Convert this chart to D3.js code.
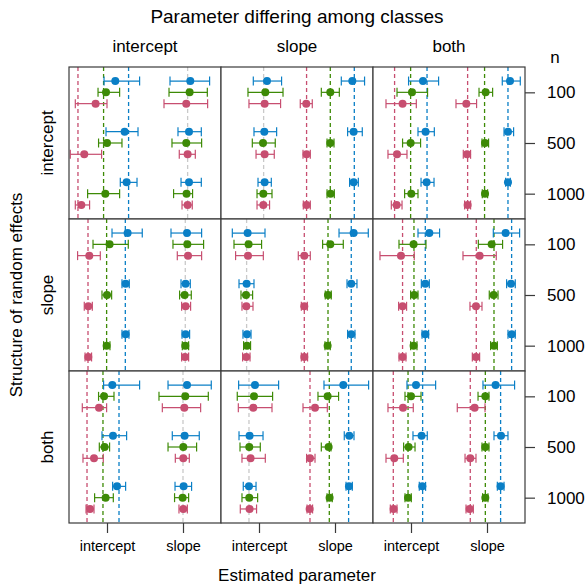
<!DOCTYPE html>
<html>
<head>
<meta charset="utf-8">
<script src="https://cdn.jsdelivr.net/npm/d3@7"></script>
<style>
  html, body { margin: 0; padding: 0; background: #ffffff; }
  svg { display: block; font-family: "Liberation Sans", Arial, Helvetica, sans-serif; }
</style>
</head>
<body>
<svg id="chart" width="587" height="586"></svg>
<script>
// ---- data -------------------------------------------------------------
// Column facets: which parameter differs among classes
const differingParams = ["intercept", "slope", "both"];
// Row facets: structure of random effects
const randomStructures = ["intercept", "slope", "both"];
// Sample sizes (right axis)
const sampleSizes = [100, 500, 1000];
// Latent classes (drawn top to bottom within each sample size)
const classIds = [1, 2, 3];
const classColors = ["#0a7fc6", "#3d8a06", "#c74e70"];
// Estimated parameters (bottom axis)
const paramNames = ["intercept", "slope"];
const paramPositions = [1, 2];

// True values: [parameter, class (0 = shared by all classes), value]
const truth_intercept_intercept = [["intercept", 1, 1.284], ["intercept", 2, 0.955], ["intercept", 3, 0.618], ["slope", 0, 2.061]];
const truth_intercept_slope = [["intercept", 0, 1.061], ["slope", 1, 2.254], ["slope", 2, 1.938], ["slope", 3, 1.626]];
const truth_intercept_both = [["intercept", 1, 1.211], ["intercept", 2, 0.995], ["intercept", 3, 0.784], ["slope", 1, 2.276], ["slope", 2, 1.968], ["slope", 3, 1.745]];
const truth_slope_intercept = [["intercept", 1, 1.241], ["intercept", 2, 0.995], ["intercept", 3, 0.750], ["slope", 0, 2.030]];
const truth_slope_slope = [["intercept", 0, 0.837], ["slope", 1, 2.214], ["slope", 2, 1.908], ["slope", 3, 1.596]];
const truth_slope_both = [["intercept", 1, 1.188], ["intercept", 2, 1.039], ["intercept", 3, 0.889], ["slope", 1, 2.324], ["slope", 2, 2.092], ["slope", 3, 1.859]];
const truth_both_intercept = [["intercept", 1, 1.158], ["intercept", 2, 0.947], ["intercept", 3, 0.737], ["slope", 0, 2.000]];
const truth_both_slope = [["intercept", 0, 0.868], ["slope", 1, 2.179], ["slope", 2, 1.925], ["slope", 3, 1.671]];
const truth_both_both = [["intercept", 1, 1.153], ["intercept", 2, 0.961], ["intercept", 3, 0.767], ["slope", 1, 2.179], ["slope", 2, 1.978], ["slope", 3, 1.780]];

// Estimates: [n, class, parameter, lower, estimate, upper]
const est_intercept_intercept = [
  [100, 1, "intercept", 0.961, 1.109, 1.429], [100, 2, "intercept", 0.882, 0.987, 1.166], [100, 3, "intercept", 0.583, 0.850, 1.000],
  [500, 1, "intercept", 0.987, 1.232, 1.408], [500, 2, "intercept", 0.889, 1.000, 1.197], [500, 3, "intercept", 0.517, 0.701, 0.929],
  [1000, 1, "intercept", 1.175, 1.258, 1.395], [1000, 2, "intercept", 0.745, 0.978, 1.166], [1000, 3, "intercept", 0.583, 0.662, 0.771],
  [100, 1, "slope", 1.829, 2.096, 2.350], [100, 2, "slope", 1.816, 2.087, 2.320], [100, 3, "slope", 1.750, 2.043, 2.324],
  [500, 1, "slope", 1.934, 2.079, 2.241], [500, 2, "slope", 1.855, 2.043, 2.245], [500, 3, "slope", 1.951, 2.061, 2.162],
  [1000, 1, "slope", 1.974, 2.079, 2.241], [1000, 2, "slope", 1.876, 2.047, 2.126], [1000, 3, "slope", 1.987, 2.061, 2.122]
];
const est_intercept_slope = [
  [100, 1, "intercept", 0.925, 1.105, 1.297], [100, 2, "intercept", 0.855, 1.083, 1.316], [100, 3, "intercept", 0.868, 1.074, 1.284],
  [500, 1, "intercept", 0.934, 1.070, 1.232], [500, 2, "intercept", 0.912, 1.053, 1.214], [500, 3, "intercept", 0.961, 1.074, 1.201],
  [1000, 1, "intercept", 0.987, 1.074, 1.162], [1000, 2, "intercept", 0.974, 1.057, 1.171], [1000, 3, "intercept", 0.974, 1.057, 1.139],
  [100, 1, "slope", 2.083, 2.228, 2.389], [100, 2, "slope", 1.820, 1.938, 2.057], [100, 3, "slope", 1.543, 1.622, 1.701],
  [500, 1, "slope", 2.166, 2.245, 2.359], [500, 2, "slope", 1.895, 1.938, 1.987], [500, 3, "slope", 1.579, 1.626, 1.675],
  [1000, 1, "slope", 2.192, 2.245, 2.307], [1000, 2, "slope", 1.895, 1.942, 1.991], [1000, 3, "slope", 1.583, 1.626, 1.675]
];
const est_intercept_both = [
  [100, 1, "intercept", 0.968, 1.158, 1.363], [100, 2, "intercept", 0.816, 1.013, 1.218], [100, 3, "intercept", 0.671, 0.889, 1.070],
  [500, 1, "intercept", 1.092, 1.192, 1.307], [500, 2, "intercept", 0.889, 0.995, 1.126], [500, 3, "intercept", 0.697, 0.816, 0.947],
  [1000, 1, "intercept", 1.132, 1.205, 1.303], [1000, 2, "intercept", 0.916, 1.004, 1.092], [1000, 3, "intercept", 0.741, 0.811, 0.882],
  [100, 1, "slope", 2.201, 2.303, 2.438], [100, 2, "slope", 1.895, 1.982, 2.074], [100, 3, "slope", 1.592, 1.728, 1.863],
  [500, 1, "slope", 2.224, 2.276, 2.350], [500, 2, "slope", 1.934, 1.974, 2.021], [500, 3, "slope", 1.688, 1.737, 1.784],
  [1000, 1, "slope", 2.245, 2.276, 2.307], [1000, 2, "slope", 1.938, 1.974, 2.008], [1000, 3, "slope", 1.705, 1.745, 1.784]
];
const est_slope_intercept = [
  [100, 1, "intercept", 1.066, 1.271, 1.464], [100, 2, "intercept", 0.816, 1.034, 1.280], [100, 3, "intercept", 0.613, 0.767, 0.912],
  [500, 1, "intercept", 1.197, 1.245, 1.293], [500, 2, "intercept", 0.934, 1.000, 1.061], [500, 3, "intercept", 0.701, 0.754, 0.807],
  [1000, 1, "intercept", 1.197, 1.245, 1.289], [1000, 2, "intercept", 0.955, 0.995, 1.039], [1000, 3, "intercept", 0.711, 0.754, 0.797],
  [100, 1, "slope", 1.842, 2.053, 2.245], [100, 2, "slope", 1.868, 2.057, 2.271], [100, 3, "slope", 1.925, 2.066, 2.245],
  [500, 1, "slope", 1.974, 2.034, 2.096], [500, 2, "slope", 1.955, 2.021, 2.109], [500, 3, "slope", 1.982, 2.034, 2.100],
  [1000, 1, "slope", 1.987, 2.034, 2.087], [1000, 2, "slope", 1.991, 2.030, 2.074], [1000, 3, "slope", 1.982, 2.026, 2.074]
];
const est_slope_slope = [
  [100, 1, "intercept", 0.649, 0.850, 1.079], [100, 2, "intercept", 0.671, 0.863, 1.034], [100, 3, "intercept", 0.692, 0.855, 1.057],
  [500, 1, "intercept", 0.737, 0.837, 0.934], [500, 2, "intercept", 0.763, 0.829, 0.916], [500, 3, "intercept", 0.776, 0.833, 0.921],
  [1000, 1, "intercept", 0.789, 0.842, 0.895], [1000, 2, "intercept", 0.797, 0.842, 0.889], [1000, 3, "intercept", 0.784, 0.833, 0.882],
  [100, 1, "slope", 2.053, 2.245, 2.438], [100, 2, "slope", 1.837, 1.938, 2.109], [100, 3, "slope", 1.517, 1.596, 1.675],
  [500, 1, "slope", 2.158, 2.214, 2.289], [500, 2, "slope", 1.872, 1.908, 1.951], [500, 3, "slope", 1.557, 1.596, 1.636],
  [1000, 1, "slope", 2.166, 2.214, 2.263], [1000, 2, "slope", 1.868, 1.903, 1.938], [1000, 3, "slope", 1.557, 1.596, 1.639]
];
const est_slope_both = [
  [100, 1, "intercept", 1.092, 1.241, 1.376], [100, 2, "intercept", 0.842, 1.034, 1.197], [100, 3, "intercept", 0.592, 0.868, 1.043],
  [500, 1, "intercept", 1.136, 1.188, 1.241], [500, 2, "intercept", 0.995, 1.043, 1.092], [500, 3, "intercept", 0.837, 0.889, 0.942],
  [1000, 1, "intercept", 1.145, 1.188, 1.232], [1000, 2, "intercept", 0.995, 1.034, 1.079], [1000, 3, "intercept", 0.842, 0.889, 0.934],
  [100, 1, "slope", 2.083, 2.245, 2.429], [100, 2, "slope", 1.886, 2.061, 2.205], [100, 3, "slope", 1.684, 1.903, 2.122],
  [500, 1, "slope", 2.258, 2.316, 2.372], [500, 2, "slope", 2.030, 2.087, 2.145], [500, 3, "slope", 1.776, 1.855, 1.934],
  [1000, 1, "slope", 2.276, 2.324, 2.372], [1000, 2, "slope", 2.047, 2.092, 2.136], [1000, 3, "slope", 1.807, 1.855, 1.903]
];
const est_both_intercept = [
  [100, 1, "intercept", 0.955, 1.070, 1.429], [100, 2, "intercept", 0.889, 0.961, 1.092], [100, 3, "intercept", 0.675, 0.895, 0.995],
  [500, 1, "intercept", 0.934, 1.079, 1.258], [500, 2, "intercept", 0.899, 0.968, 1.034], [500, 3, "intercept", 0.684, 0.829, 0.951],
  [1000, 1, "intercept", 1.074, 1.132, 1.245], [1000, 2, "intercept", 0.837, 0.982, 1.083], [1000, 3, "intercept", 0.724, 0.776, 0.829],
  [100, 1, "slope", 1.803, 2.053, 2.372], [100, 2, "slope", 1.684, 2.030, 2.333], [100, 3, "slope", 1.728, 2.017, 2.232],
  [500, 1, "slope", 1.859, 2.021, 2.214], [500, 2, "slope", 1.803, 2.004, 2.179], [500, 3, "slope", 1.899, 2.004, 2.083],
  [1000, 1, "slope", 1.895, 2.008, 2.113], [1000, 2, "slope", 1.889, 1.995, 2.074], [1000, 3, "slope", 1.947, 2.004, 2.057]
];
const est_both_slope = [
  [100, 1, "intercept", 0.732, 0.947, 1.258], [100, 2, "intercept", 0.714, 0.934, 1.179], [100, 3, "intercept", 0.728, 0.925, 1.171],
  [500, 1, "intercept", 0.737, 0.876, 1.053], [500, 2, "intercept", 0.750, 0.872, 1.017], [500, 3, "intercept", 0.776, 0.889, 1.083],
  [1000, 1, "intercept", 0.793, 0.868, 0.961], [1000, 2, "intercept", 0.776, 0.872, 0.982], [1000, 3, "intercept", 0.754, 0.876, 0.968],
  [100, 1, "slope", 1.855, 2.109, 2.442], [100, 2, "slope", 1.776, 1.903, 2.047], [100, 3, "slope", 1.579, 1.737, 1.899],
  [500, 1, "slope", 2.122, 2.188, 2.250], [500, 2, "slope", 1.820, 1.916, 1.947], [500, 3, "slope", 1.626, 1.671, 1.737],
  [1000, 1, "slope", 2.145, 2.184, 2.228], [1000, 2, "slope", 1.895, 1.929, 1.964], [1000, 3, "slope", 1.632, 1.666, 1.705]
];
const est_both_both = [
  [100, 1, "intercept", 0.947, 1.066, 1.324], [100, 2, "intercept", 0.921, 1.000, 1.132], [100, 3, "intercept", 0.697, 0.895, 1.030],
  [500, 1, "intercept", 1.026, 1.139, 1.214], [500, 2, "intercept", 0.903, 0.968, 1.053], [500, 3, "intercept", 0.671, 0.780, 0.899],
  [1000, 1, "intercept", 1.109, 1.149, 1.192], [1000, 2, "intercept", 0.921, 0.961, 1.004], [1000, 3, "intercept", 0.728, 0.771, 0.816],
  [100, 1, "slope", 1.947, 2.113, 2.363], [100, 2, "slope", 1.882, 1.978, 2.026], [100, 3, "slope", 1.609, 1.837, 1.974],
  [500, 1, "slope", 2.092, 2.184, 2.276], [500, 2, "slope", 1.934, 1.978, 2.026], [500, 3, "slope", 1.711, 1.780, 1.855],
  [1000, 1, "slope", 2.136, 2.179, 2.224], [1000, 2, "slope", 1.942, 1.978, 2.013], [1000, 3, "slope", 1.724, 1.771, 1.820]
];

const panelEstimates = {
  intercept: { intercept: est_intercept_intercept, slope: est_intercept_slope, both: est_intercept_both },
  slope:     { intercept: est_slope_intercept,     slope: est_slope_slope,     both: est_slope_both },
  both:      { intercept: est_both_intercept,      slope: est_both_slope,      both: est_both_both }
};
const panelTruth = {
  intercept: { intercept: truth_intercept_intercept, slope: truth_intercept_slope, both: truth_intercept_both },
  slope:     { intercept: truth_slope_intercept,     slope: truth_slope_slope,     both: truth_slope_both },
  both:      { intercept: truth_both_intercept,      slope: truth_both_slope,      both: truth_both_both }
};

// ---- layout ------------------------------------------------------------
const panelSize = 152;
const marginLeft = 69, marginTop = 67;
const sharedLineColor = "#c9c9c9";
const frameColor = "#3a3a3a";

const svg = d3.select("#chart");

// Scales shared by every panel
const x = d3.scaleLinear().domain([0.5, 2.5]).range([0, panelSize]);
const yN = d3.scaleBand().domain(sampleSizes).range([0, panelSize]);
const yClass = d3.scalePoint().domain(classIds).range([-0.223, 0.223]);
const color = d3.scaleOrdinal().domain(classIds).range(classColors);
const colX = d3.scaleBand().domain(differingParams).range([marginLeft, marginLeft + 3 * panelSize]);
const rowY = d3.scaleBand().domain(randomStructures).range([marginTop, marginTop + 3 * panelSize]);

const yPos = (n, c) => yN(n) + yN.bandwidth() / 2 + yClass(c) * yN.bandwidth();

const capHalf = 4.5, pointR = 4;

randomStructures.forEach(rowKey => {
  differingParams.forEach(colKey => {
    const g = svg.append("g")
      .attr("transform", `translate(${colX(colKey)},${rowY(rowKey)})`);

    g.append("rect")
      .attr("width", panelSize).attr("height", panelSize)
      .attr("fill", "#ffffff");

    // reference lines for the true values
    const truth = panelTruth[rowKey][colKey];
    g.selectAll("line.truth").data(truth).join("line")
      .attr("class", "truth")
      .attr("x1", d => x(d[2])).attr("x2", d => x(d[2]))
      .attr("y1", 0).attr("y2", panelSize)
      .attr("stroke", d => d[1] === 0 ? sharedLineColor : color(d[1]))
      .attr("stroke-width", 1.3)
      .attr("stroke-dasharray", "4,3");

    const est = panelEstimates[rowKey][colKey];
    const bars = g.selectAll("g.est").data(est).join("g").attr("class", "est")
      .attr("stroke", d => color(d[1]))
      .attr("fill", d => color(d[1]));

    bars.append("line")
      .attr("x1", d => x(d[3])).attr("x2", d => x(d[5]))
      .attr("y1", d => yPos(d[0], d[1])).attr("y2", d => yPos(d[0], d[1]))
      .attr("stroke-width", 1.2);
    bars.append("line")
      .attr("x1", d => x(d[3])).attr("x2", d => x(d[3]))
      .attr("y1", d => yPos(d[0], d[1]) - capHalf).attr("y2", d => yPos(d[0], d[1]) + capHalf)
      .attr("stroke-width", 1.2);
    bars.append("line")
      .attr("x1", d => x(d[5])).attr("x2", d => x(d[5]))
      .attr("y1", d => yPos(d[0], d[1]) - capHalf).attr("y2", d => yPos(d[0], d[1]) + capHalf)
      .attr("stroke-width", 1.2);
    bars.append("circle")
      .attr("cx", d => x(d[4])).attr("cy", d => yPos(d[0], d[1]))
      .attr("r", pointR).attr("stroke", "none");

    g.append("rect")
      .attr("width", panelSize).attr("height", panelSize)
      .attr("fill", "none").attr("stroke", frameColor).attr("stroke-width", 1.2);
  });
});

// bottom axes (one per column)
differingParams.forEach(colKey => {
  const ax = d3.axisBottom(x)
    .tickValues(paramPositions)
    .tickFormat((d, i) => paramNames[i])
    .tickSize(10).tickSizeOuter(0).tickPadding(8);
  const g = svg.append("g")
    .attr("transform", `translate(${colX(colKey)},${marginTop + 3 * panelSize})`)
    .call(ax);
  g.select(".domain").remove();
  g.selectAll(".tick line").attr("stroke", frameColor).attr("stroke-width", 1.2);
  g.selectAll(".tick text").attr("fill", "#000").style("font-size", "14.5px")
    .style("font-family", "Liberation Sans, Arial, sans-serif");
});

// right axes (one per row) with sample size labels
randomStructures.forEach(rowKey => {
  const yAxisScale = d3.scalePoint().domain(sampleSizes).range([0, panelSize]).padding(0.5);
  const ax = d3.axisRight(yAxisScale).tickSize(10).tickSizeOuter(0).tickPadding(12);
  const g = svg.append("g")
    .attr("transform", `translate(${marginLeft + 3 * panelSize},${rowY(rowKey)})`)
    .call(ax);
  g.select(".domain").remove();
  g.selectAll(".tick line").attr("stroke", frameColor).attr("stroke-width", 1.2);
  g.selectAll(".tick text").attr("fill", "#000").style("font-size", "17px")
    .style("font-family", "Liberation Sans, Arial, sans-serif");
});

// column strip labels
svg.selectAll("text.colstrip").data(differingParams).join("text")
  .attr("class", "colstrip")
  .attr("x", d => colX(d) + panelSize / 2).attr("y", 52)
  .attr("text-anchor", "middle").style("font-size", "17px")
  .text(d => d);

// row strip labels
svg.selectAll("text.rowstrip").data(randomStructures).join("text")
  .attr("class", "rowstrip")
  .attr("transform", d => `translate(53,${rowY(d) + panelSize / 2}) rotate(-90)`)
  .attr("text-anchor", "middle").style("font-size", "17px")
  .text(d => d);

// titles
svg.append("text").attr("x", marginLeft + 1.5 * panelSize).attr("y", 23)
  .attr("text-anchor", "middle").style("font-size", "19px")
  .text("Parameter differing among classes");
svg.append("text").attr("x", marginLeft + 1.5 * panelSize).attr("y", 581)
  .attr("text-anchor", "middle").style("font-size", "17px")
  .text("Estimated parameter");
svg.append("text")
  .attr("transform", `translate(22,${marginTop + 1.5 * panelSize}) rotate(-90)`)
  .attr("text-anchor", "middle").style("font-size", "17px")
  .text("Structure of random effects");
svg.append("text").attr("x", 555).attr("y", 63)
  .attr("text-anchor", "middle").style("font-size", "17px")
  .text("n");
</script>
</body>
</html>
